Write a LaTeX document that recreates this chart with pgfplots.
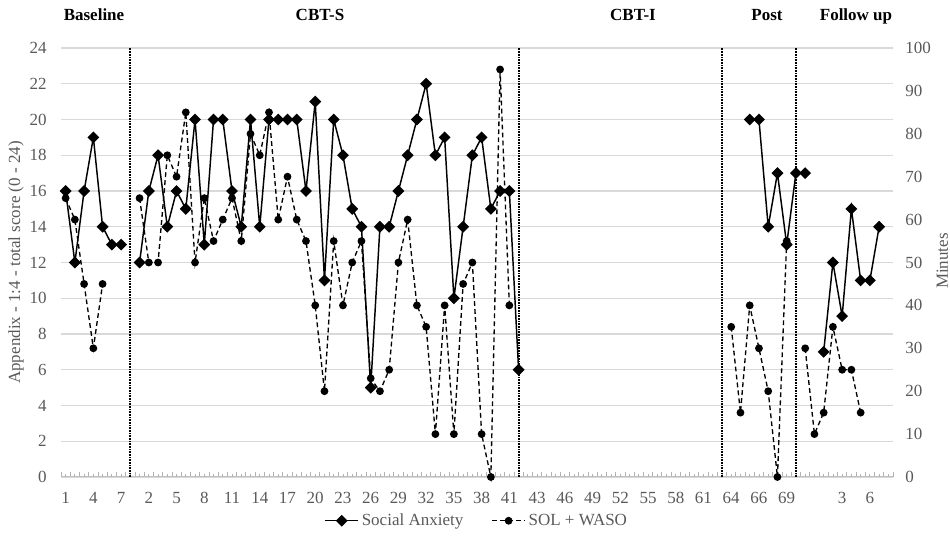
\documentclass[border=0pt]{standalone}
\usepackage{fontspec}
\setmainfont{Liberation Serif}
\usepackage{pgfplots}
\pgfplotsset{compat=1.18}
\usepackage{pgfplotstable}
\definecolor{tickgray}{HTML}{595959}
\newcommand{\chartfont}{\fontsize{12.75}{15}\selectfont}

\pgfplotstableread{
p sa sol
1 16 65
2 12 60
3 16 45
4 19 30
5 14 45
6 13 nan
7 13 nan
8 nan nan
9 12 65
10 16 50
11 18 50
12 14 75
13 16 70
14 15 85
15 20 50
16 13 65
17 20 55
18 20 60
19 16 65
20 14 55
21 20 80
22 14 75
23 20 85
24 20 60
25 20 70
26 20 60
27 16 55
28 21 40
29 11 20
30 20 55
31 18 40
32 15 50
33 14 55
34 5 23
35 14 20
36 14 25
37 16 50
38 18 60
39 20 40
40 22 35
41 18 10
42 19 40
43 10 10
44 14 45
45 18 50
46 19 10
47 15 0
48 16 95
49 16 40
50 6 nan
51 nan nan
72 nan nan
73 nan 35
74 nan 15
75 20 40
76 20 30
77 14 20
78 17 0
79 13 55
80 17 nan
81 17 30
82 nan 10
83 7 15
84 12 35
85 9 25
86 15 25
87 11 15
88 11 nan
89 14 nan
90 nan nan
}\data

\pgfplotsset{
  sastyle/.style={black, line width=1.1pt, mark=square*, mark size=2.6pt, mark options={solid, rotate=45}},
  solstyle/.style={black, line width=1pt, dash pattern=on 3.6pt off 2.4pt, mark=*, mark size=2.4pt, mark options={solid}},
  vline/.style={black, line width=1.5pt, dash pattern=on 0.6pt off 0.6pt},
}

\begin{document}
\begin{tikzpicture}
\useasboundingbox (-45.75pt,-46.5pt) rectangle (666.75pt,357.75pt);
\begin{axis}[
  at={(0,0)}, anchor=south west,
  scale only axis, width=624pt, height=321.75pt,
  xmin=0.5, xmax=90.5, ymin=0, ymax=24, clip=false,
  unbounded coords=jump,
  /pgf/number format/assume math mode=true,
  axis x line*=bottom, axis y line*=left,
  x axis line style={black!25, line width=0.75pt, -},
  y axis line style={draw=none},
  ytick={0,2,...,24},
  ymajorgrids, grid style={black!15, line width=1pt},
  xtick={1,4,...,88},
  xticklabels={1,4,7,2,5,8,11,14,17,20,23,26,29,32,35,38,41,43,46,49,52,55,58,61,64,66,69,,3,6},
  major tick length=0pt,
  minor xtick={0.5,1.5,...,90.5}, minor tick length=3.5pt,
  tick align=inside,
  tick style={black!30, line width=0.6pt},
  extra x ticks={1,2,...,90}, extra x tick labels={},
  extra x tick style={major tick length=2pt, grid=none},
  ticklabel style={font=\chartfont, text=tickgray, inner sep=0pt},
  xticklabel style={anchor=center, yshift=-15.75pt},
  yticklabel style={anchor=east, xshift=-10.5pt},
  legend style={at={(0.5,-0.102)}, anchor=center, draw=none, fill=none,
    font=\chartfont, text=tickgray, legend columns=2,
    /tikz/every even column/.append style={column sep=19pt}},
  legend cell align=left,
  legend image code/.code={\draw[#1, mark repeat=2, mark phase=2] plot coordinates {(0pt,0pt) (12.5pt,0pt) (25pt,0pt)};},
]
\addplot[vline, forget plot] coordinates {(8,0) (8,24)};
\addplot[vline, forget plot] coordinates {(50,0) (50,24)};
\addplot[vline, forget plot] coordinates {(72,0) (72,24)};
\addplot[vline, forget plot] coordinates {(80,0) (80,24)};
\addplot[sastyle] table[x=p, y=sa] {\data};
\addlegendentry{Social Anxiety}
\addlegendimage{solstyle}
\addlegendentry{SOL + WASO}
\end{axis}
\begin{axis}[
  at={(0,0)}, anchor=south west,
  scale only axis, width=624pt, height=321.75pt,
  xmin=0.5, xmax=90.5, ymin=0, ymax=100, clip=false,
  unbounded coords=jump,
  /pgf/number format/assume math mode=true,
  axis x line=none, axis y line*=right,
  y axis line style={draw=none},
  ytick={0,10,...,100},
  major tick length=0pt,
  ticklabel style={font=\chartfont, text=tickgray, inner sep=0pt},
  yticklabel style={anchor=west, xshift=9pt},
]
\addplot[solstyle] table[x=p, y=sol] {\data};
\end{axis}
\node[font=\bfseries\chartfont, anchor=base] at (24.75pt,342.2pt) {Baseline};
\node[font=\bfseries\chartfont, anchor=base] at (194.25pt,342.2pt) {CBT-S};
\node[font=\bfseries\chartfont, anchor=base] at (429pt,342.2pt) {CBT-I};
\node[font=\bfseries\chartfont, anchor=base] at (529.5pt,342.2pt) {Post};
\node[font=\bfseries\chartfont, anchor=base] at (596.25pt,342.2pt) {Follow up};
\node[font=\chartfont, text=tickgray, rotate=90] at (-33.75pt,160.9pt) {Appendix - 1:4 - total score (0 - 24)};
\node[font=\chartfont, text=tickgray, rotate=90] at (661pt,162pt) {Minutes};
\end{tikzpicture}
\end{document}
